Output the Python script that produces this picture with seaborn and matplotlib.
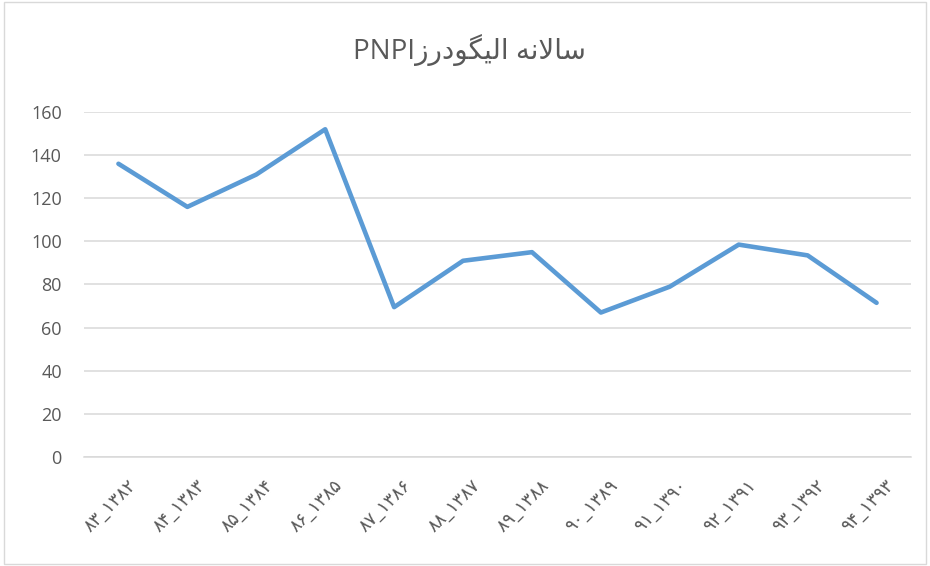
import matplotlib
matplotlib.use('Agg')
import matplotlib.pyplot as plt
import matplotlib.transforms as mtransforms
import seaborn as sns
import pandas as pd
from matplotlib.patches import Rectangle

# data
periods = ['۸۳_۱۳۸۲', '۸۴_۱۳۸۳', '۸۵_۱۳۸۴', '۸۶_۱۳۸۵', '۸۷_۱۳۸۶', '۸۸_۱۳۸۷',
           '۸۹_۱۳۸۸', '۹۰_۱۳۸۹', '۹۱_۱۳۹۰', '۹۲_۱۳۹۱', '۹۳_۱۳۹۲', '۹۴_۱۳۹۳']
pnpi = [136, 116, 131, 152, 69.5, 91, 95, 67, 79, 98.5, 93.5, 71.5]
y_ticks = [0, 20, 40, 60, 80, 100, 120, 140, 160]

# title in visual order with Arabic presentation forms (matplotlib does no shaping / bidi)
# "سالانه الیگودرزPNPI"
title_text = ('PNPI'
              + '\uFEAF\uFEAD\uFEA9\uFEEE\uFB95\uFBFF\uFEDF\uFE8D'
              + ' '
              + '\uFEEA\uFEE7\uFEFB\uFE8E\uFEB3')

df = pd.DataFrame({'period': periods, 'value': pnpi})

sns.set_theme(style='whitegrid')
plt.rcParams['font.family'] = ['Open Sans', 'DejaVu Sans']

fig = plt.figure(figsize=(9.3, 5.66), dpi=100)
ax = fig.add_axes([0.0903, 0.1926, 0.8893, 0.6095])

sns.lineplot(data=df, x='period', y='value', sort=False, ax=ax,
             color='#5b9bd5', linewidth=3.3, solid_capstyle='round')

ax.set_xlim(-0.5, len(periods) - 0.5)
ax.set_ylim(0, 160)
ax.set_yticks(y_ticks)
ax.set_xlabel('')
ax.set_ylabel('')

ax.set_facecolor('white')
ax.grid(axis='y', color='#d9d9d9', linewidth=1.1)
ax.grid(axis='x', visible=False)
for side in ['top', 'right', 'left']:
    ax.spines[side].set_visible(False)
ax.spines['bottom'].set_color('#d9d9d9')
ax.spines['bottom'].set_linewidth(1.1)

ax.tick_params(axis='y', length=0, pad=16, labelsize=13, labelcolor='#595959')
ax.tick_params(axis='x', length=0, pad=14, labelsize=13, labelcolor='#595959')
# nudge the rotated labels a little to the right, like the reference
shift = mtransforms.ScaledTranslation(8 / 100, 0, fig.dpi_scale_trans)
for lbl in ax.get_xticklabels():
    lbl.set_rotation(45)
    lbl.set_ha('right')
    lbl.set_rotation_mode('anchor')
    lbl.set_transform(lbl.get_transform() + shift)

fig.text(0.505, 1 - 50 / 566, title_text, ha='center', va='center',
         fontsize=20, color='#595959')

# light chart border
fig.patches.append(Rectangle((0.004, 0.004), 0.992, 0.992, transform=fig.transFigure,
                             fill=False, edgecolor='#d9d9d9', linewidth=1))

plt.savefig('out.png', dpi=100, facecolor='white')
plt.close()
